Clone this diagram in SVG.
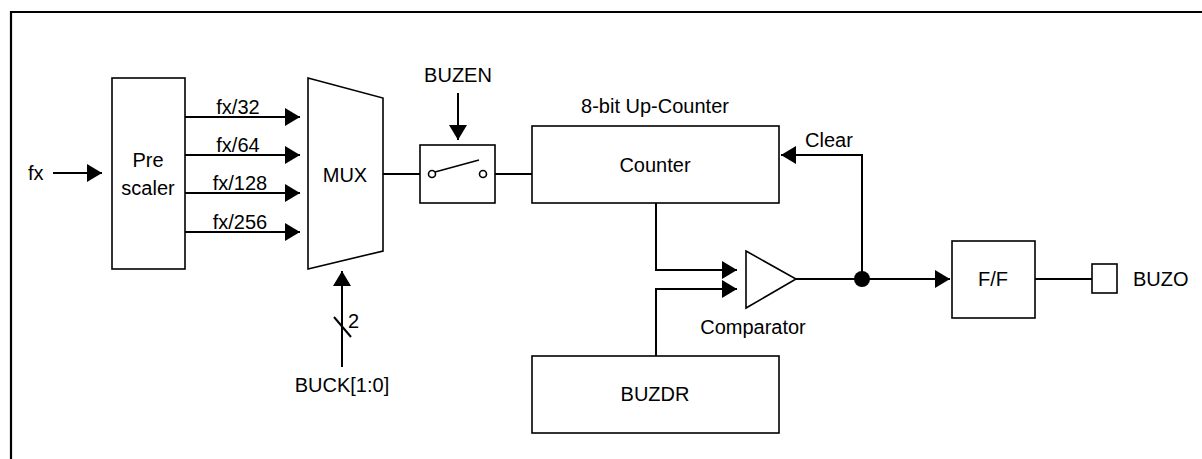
<svg xmlns="http://www.w3.org/2000/svg" width="1202" height="459" viewBox="0 0 1202 459">
<defs>
<style>
text{font-family:"Liberation Sans",Arial,sans-serif;font-size:20px;fill:#000}
.box{fill:#fff;stroke:#000;stroke-width:1.6}
.w{fill:none;stroke:#000;stroke-width:2}
.mid{text-anchor:middle}
</style>
<marker id="ah" viewBox="0 0 15 18" refX="15" refY="9" markerWidth="15" markerHeight="18" markerUnits="userSpaceOnUse" orient="auto">
<path d="M0,0 L15,9 L0,18 Z" fill="#000"/>
</marker>
</defs>
<rect width="1202" height="459" fill="#fff"/>
<path d="M11,459 V12 H1202" fill="none" stroke="#000" stroke-width="2.2"/>

<g id="prescaler">
<rect class="box" x="112" y="78" width="73" height="191"/>
<text class="mid" x="148" y="167">Pre</text>
<text class="mid" x="148" y="195">scaler</text>
</g>
<g id="mux">
<path class="box" d="M308,78 L383,98 L383,251 L308,269 Z"/>
<text class="mid" x="345" y="182">MUX</text>
</g>
<g id="switch">
<rect class="box" x="420" y="145" width="75" height="58"/>
<circle cx="432" cy="174" r="3.5" fill="#fff" stroke="#000" stroke-width="1.6"/>
<circle cx="483" cy="174" r="3.5" fill="#fff" stroke="#000" stroke-width="1.6"/>
<line x1="435" y1="172" x2="479" y2="160" stroke="#000" stroke-width="1.6"/>
</g>
<g id="counter">
<rect class="box" x="532" y="126" width="247" height="77"/>
<text class="mid" x="655" y="172">Counter</text>
<text class="mid" x="655" y="113">8-bit Up-Counter</text>
</g>
<g id="comparator">
<path class="box" d="M746,251 L796,279 L746,308 Z"/>
<text class="mid" x="753" y="334">Comparator</text>
</g>
<g id="buzdr">
<rect class="box" x="532" y="356" width="247" height="77"/>
<text class="mid" x="655" y="401">BUZDR</text>
</g>
<g id="ff">
<rect class="box" x="952" y="241" width="83" height="77"/>
<text class="mid" x="993" y="286">F/F</text>
</g>
<g id="buzo">
<rect class="box" x="1092" y="264" width="25" height="29"/>
<text x="1133" y="286">BUZO</text>
</g>

<g id="connectors">
<line class="w" x1="53" y1="173" x2="102" y2="173" marker-end="url(#ah)"/>
<line class="w" x1="185" y1="117" x2="300" y2="117" marker-end="url(#ah)"/>
<line class="w" x1="185" y1="155" x2="300" y2="155" marker-end="url(#ah)"/>
<line class="w" x1="185" y1="193" x2="300" y2="193" marker-end="url(#ah)"/>
<line class="w" x1="185" y1="232" x2="300" y2="232" marker-end="url(#ah)"/>
<line class="w" x1="342" y1="367" x2="342" y2="271" marker-end="url(#ah)"/>
<line class="w" x1="334" y1="317" x2="351" y2="337" stroke-width="1.6"/>
<line class="w" x1="383" y1="174" x2="420" y2="174"/>
<line class="w" x1="458" y1="93" x2="458" y2="140" marker-end="url(#ah)"/>
<line class="w" x1="495" y1="174" x2="532" y2="174"/>
<path class="w" d="M656,203 V270 H737" marker-end="url(#ah)"/>
<path class="w" d="M656,356 V289 H737" marker-end="url(#ah)"/>
<line class="w" x1="796" y1="279" x2="950" y2="279" marker-end="url(#ah)"/>
<path class="w" d="M862,279 V155 H781" marker-end="url(#ah)"/>
<circle cx="862" cy="279" r="8" fill="#000"/>
<line class="w" x1="1035" y1="279" x2="1092" y2="279"/>
</g>

<g id="labels">
<text x="28" y="180">fx</text>
<text class="mid" x="238" y="114">fx/32</text>
<text class="mid" x="238" y="152">fx/64</text>
<text class="mid" x="240" y="190">fx/128</text>
<text class="mid" x="240" y="229">fx/256</text>
<text class="mid" x="458" y="82">BUZEN</text>
<text x="805" y="147">Clear</text>
<text x="348" y="328">2</text>
<text class="mid" x="342" y="392">BUCK[1:0]</text>
</g>
</svg>
